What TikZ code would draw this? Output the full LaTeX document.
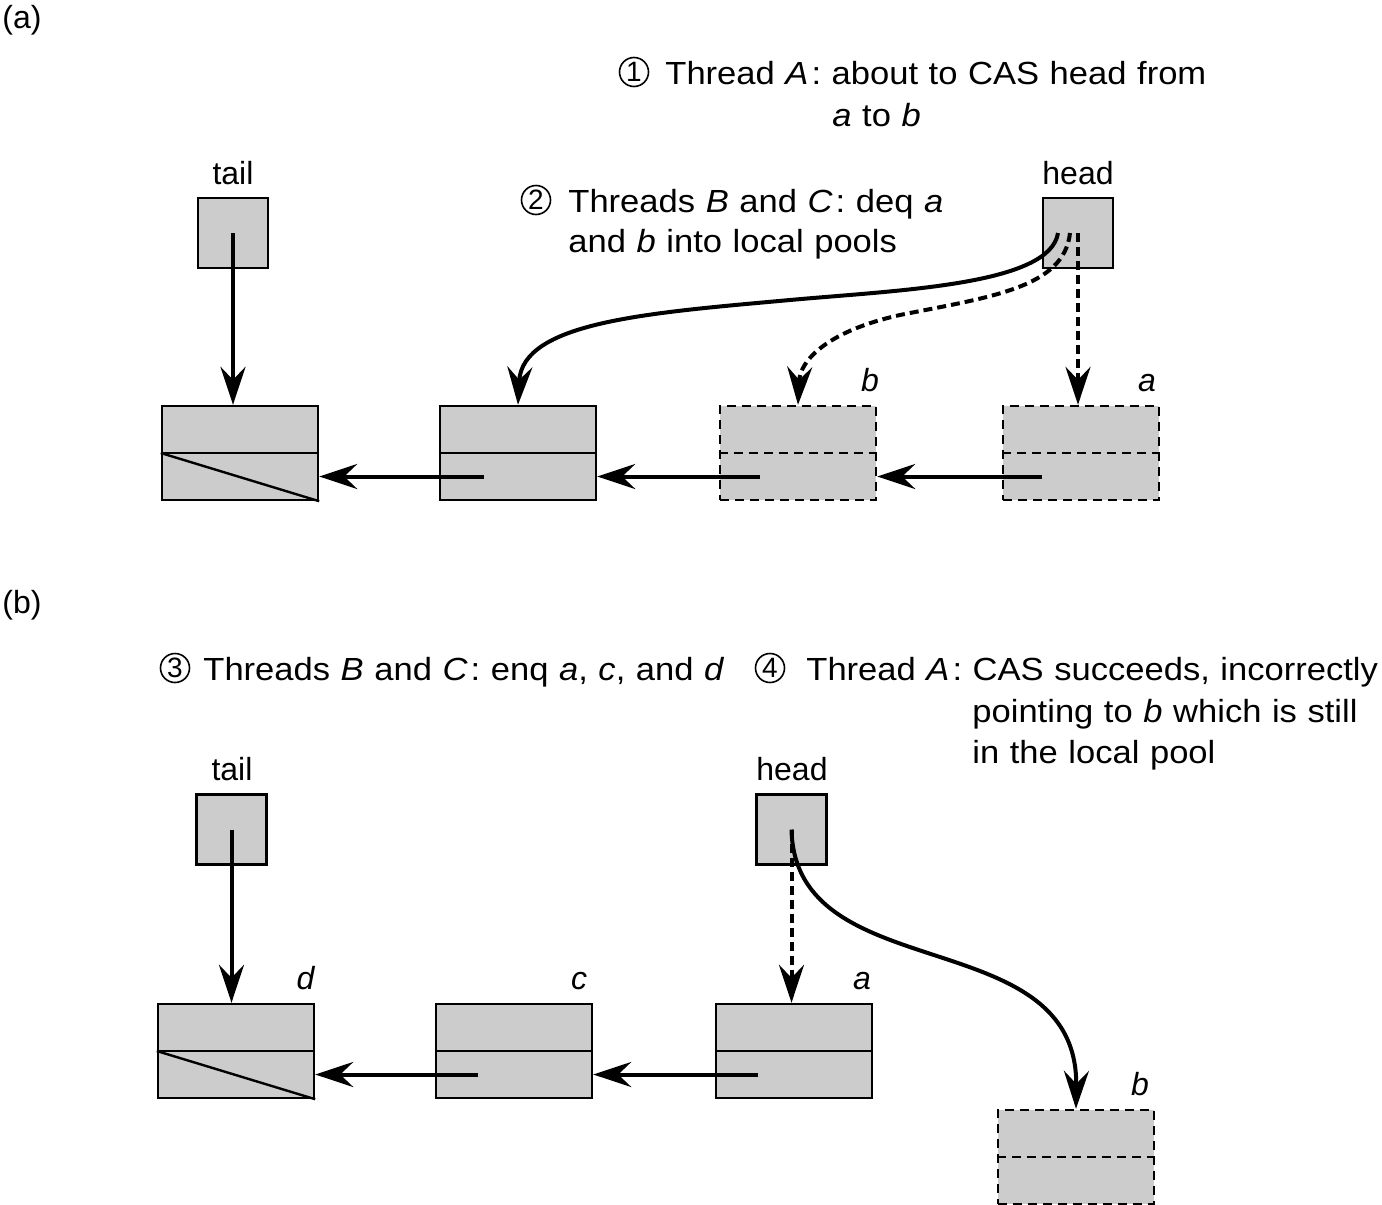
\documentclass[tikz,border=0pt]{standalone}
\usepackage{fontspec}
\setmainfont{Liberation Sans}
\newfontfamily\sentfont{Liberation Sans}[FakeStretch=1.08,WordSpace=1.1]
\usetikzlibrary{arrows.meta}
\definecolor{cellfill}{gray}{0.8}
\newcommand\colonsep{\hspace{1.5pt}:}
\begin{document}
\begin{tikzpicture}[x=0.5pt,y=-0.5pt,
  lbl/.style={inner sep=0pt,font=\fontsize{16}{19}\selectfont},
  txt/.style={inner sep=0pt,anchor=base west,font=\fontsize{16}{19}\sentfont},
  tag/.style={lbl,anchor=base},
  num/.style={circle,draw,line width=0.8pt,minimum size=14.5pt,inner sep=0pt,font=\fontsize{14}{14}\selectfont},
  reg/.style={draw,fill=cellfill,line width=1.2pt,minimum width=35pt,minimum height=35pt,inner sep=0pt},
  cell/.style={draw,fill=cellfill,line width=1.2pt,minimum width=78pt,minimum height=47pt,inner sep=0pt},
  rule/.style={line width=1.2pt},
  freedash/.style={dash pattern=on 4.5pt off 3pt},
  freecell/.style={cell,freedash},
  ptr/.style={line width=2pt,-{Stealth[length=19pt,width=12.5pt,inset=6.5pt]}},
  freeptr/.style={ptr,dash pattern=on 4.5pt off 2.5pt},
]
\useasboundingbox (0,0) rectangle (1382,1205);

% ---------------- (a) ----------------
\node[lbl,anchor=base west] (pa) at (2,28) {(a)};

\node[num] (c1) at (634,72) {1};
\node[txt] (t1a) at (665,84) {Thread \textit{A}\colonsep{} about to CAS head from};
\node[txt] (t1b) at (832,126) {\textit{a} to \textit{b}};
\node[num] (c2) at (536,200) {2};
\node[txt] (t2a) at (568,212) {Threads \textit{B} and \textit{C}\colonsep{} deq \textit{a}};
\node[txt] (t2b) at (568,252) {and \textit{b} into local pools};

\node[tag] (tla) at (233,184) {tail};
\node[tag] (hla) at (1078,184) {head};
\node[reg] (ta) at (233,233) {};
\node[reg] (ha) at (1078,233) {};

\node[cell] (n1) at (240,453) {};
\node[cell] (n2) at (518,453) {};
\node[freecell] (n3) at (798,453) {};
\node[freecell] (n4) at (1081,453) {};
\draw[rule] (n1.west) -- (n1.east);
\draw[rule] (n2.west) -- (n2.east);
\draw[rule,freedash] (n3.west) -- (n3.east);
\draw[rule,freedash] (n4.west) -- (n4.east);
\draw[rule] (n1.west) -- (n1.south east);
\node[tag] (lb) at (870,391) {\textit{b}};
\node[tag] (la) at (1147,391) {\textit{a}};

\draw[ptr] (ta.center) -- (ta.center |- n1.north);
\draw[ptr] ([shift={(-34,23.5)}]n2.center) -- ([shift={(0,23.5)}]n1.east);
\draw[ptr] ([shift={(-38,23.5)}]n3.center) -- ([shift={(0,23.5)}]n2.east);
\draw[ptr] ([shift={(-39,23.5)}]n4.center) -- ([shift={(0,23.5)}]n3.east);

\draw[ptr] ([shift={(-20,0)}]ha.center) .. controls (1050,285) and (900,290) .. (790,300)
  .. controls (647,313) and (522,322) .. (n2.north);
\draw[freeptr] ([shift={(-8,0)}]ha.center) .. controls (1064,288) and (990,297) .. (900,315)
  .. controls (828,331) and (800,360) .. (n3.north);
\draw[freeptr] (ha.center) -- (ha.center |- n4.north);

% ---------------- (b) ----------------
\node[lbl,anchor=base west] (pb) at (2,613) {(b)};

\node[num] (c3) at (175,668) {3};
\node[txt] (t3) at (203,680) {Threads \textit{B} and \textit{C}\colonsep{} enq \textit{a}, \textit{c}, and \textit{d}};
\node[num] (c4) at (770,668) {4};
\node[txt] (t4a) at (806,680) {Thread \textit{A}\colonsep{} CAS succeeds, incorrectly};
\node[txt] (t4b) at (972,722) {pointing to \textit{b} which is still};
\node[txt] (t4c) at (972,763) {in the local pool};

\node[tag] (tlb) at (232,780) {tail};
\node[tag] (hlb) at (792,780) {head};
\node[reg] (tb) at (231.5,829.5) {};
\node[reg] (hb) at (791.5,829.5) {};

\node[cell] (nd) at (236,1051) {};
\node[cell] (nc) at (514,1051) {};
\node[cell] (na) at (794,1051) {};
\node[freecell] (nb) at (1076,1157) {};
\draw[rule] (nd.west) -- (nd.east);
\draw[rule] (nc.west) -- (nc.east);
\draw[rule] (na.west) -- (na.east);
\draw[rule,freedash] (nb.west) -- (nb.east);
\draw[rule] (nd.west) -- (nd.south east);
\node[tag] (ld) at (306,989) {\textit{d}};
\node[tag] (lc) at (579,989) {\textit{c}};
\node[tag] (la2) at (862,989) {\textit{a}};
\node[tag] (lb2) at (1140,1095) {\textit{b}};

\draw[ptr] (tb.center) -- (tb.center |- nd.north);
\draw[ptr] ([shift={(-36,23.5)}]nc.center) -- ([shift={(0,23.5)}]nd.east);
\draw[ptr] ([shift={(-36,23.5)}]na.center) -- ([shift={(0,23.5)}]nc.east);

\draw[freeptr] (hb.center) -- (hb.center |- na.north);
\draw[ptr] (hb.center) .. controls (795,990) and (1078,920) .. (nb.north);
\end{tikzpicture}
\end{document}
